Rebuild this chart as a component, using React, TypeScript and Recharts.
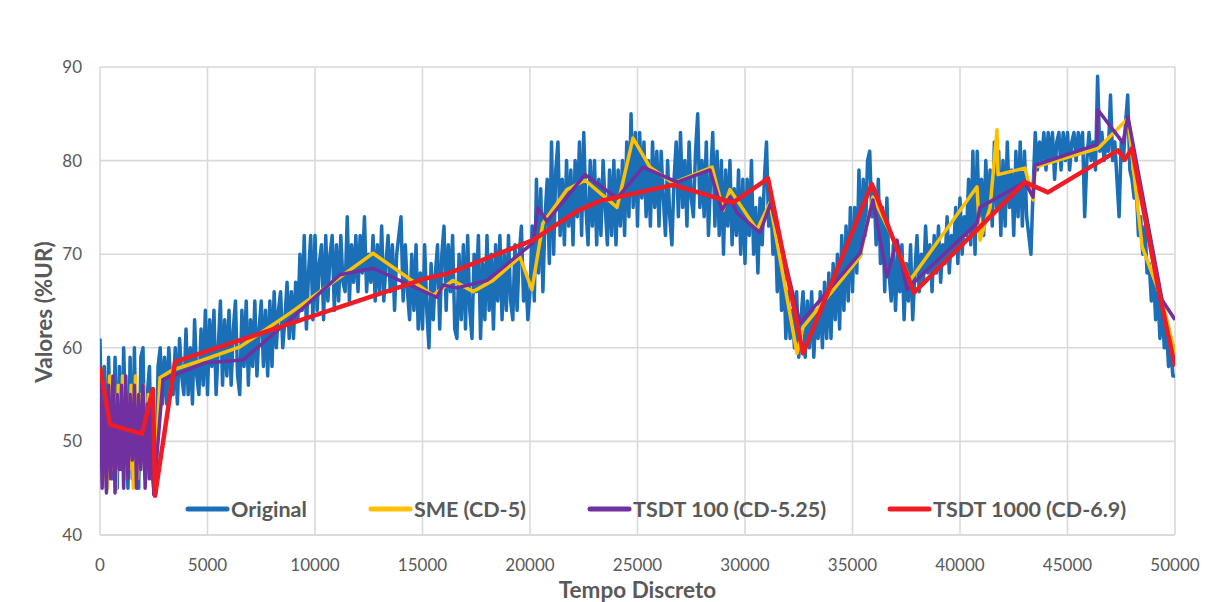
import React from 'react';
import { LineChart, Line, XAxis, YAxis, CartesianGrid, Legend } from 'recharts';

// Original humidity readings, one every ORIGINAL_INTERVAL discrete time steps
const ORIGINAL_INTERVAL = 100;
const originalValues = [
  61, 47, 58, 45, 59, 50, 46, 59, 45, 58, // 0
  47, 60, 52, 45, 59, 46, 60, 48, 45, 59, // 1000
  60, 46, 55, 58, 47, 45, 44.5, 58, 60, 54, // 2000
  59, 54, 60, 56, 55, 60, 54, 61, 57, 55, // 3000
  62, 55, 60, 54, 63, 57, 55, 62, 56, 64, // 4000
  55, 63, 58, 64, 55, 60, 65, 56, 63, 57, // 5000
  64, 56, 62, 65, 57, 55, 64, 58, 65, 56, // 6000
  63, 58, 65, 57, 62, 65, 58, 64, 57, 65, // 7000
  58, 66, 60, 64, 66, 60, 63, 67, 61, 66, // 8000
  61, 67, 63, 70, 64, 72, 62, 68, 72, 63, // 9000
  72, 64, 69, 71, 63, 72, 65, 70, 72, 64, // 10000
  71, 65, 72, 67, 66, 74, 65, 71, 67, 72, // 11000
  66, 72, 68, 74, 66, 70, 67, 72, 65, 71, // 12000
  66, 73, 65, 69, 72, 66, 71, 64, 70, 72, // 13000
  74, 65, 71, 66, 63, 70, 64, 71, 62, 68, // 14000
  62, 71, 64, 60, 69, 63, 68, 71, 62, 70, // 15000
  73, 64, 71, 66, 72, 62, 61, 70, 63, 71, // 16000
  62, 72, 64, 61, 70, 66, 72, 61, 69, 63, // 17000
  72, 64, 70, 62, 71, 65, 72, 63, 70, 64, // 18000
  72, 65, 63, 71, 64, 70, 73, 65, 68, 63, // 19000
  66, 73, 65, 78, 68, 77, 66, 74, 78, 69, // 20000
  82, 70, 79, 82, 72, 78, 71, 80, 73, 79, // 21000
  71, 80, 74, 82, 72, 83, 75, 71, 80, 73, // 22000
  80, 71, 78, 72, 80, 75, 71, 79, 72, 80, // 23000
  71, 79, 73, 80, 72, 82, 74, 85, 75, 83, // 24000
  73, 83, 76, 82, 74, 80, 73, 82, 75, 81, // 25000
  73, 81, 76, 72, 80, 74, 71, 78, 82, 74, // 26000
  83, 75, 80, 73, 82, 76, 74, 81, 85, 75, // 27000
  80, 74, 82, 72, 78, 83, 73, 81, 72, 80, // 28000
  70, 79, 73, 80, 71, 77, 72, 79, 70, 78, // 29000
  69, 78, 72, 80, 70, 75, 68, 76, 71, 78, // 30000
  82, 73, 76, 70, 74, 66, 72, 64, 69, 61, // 31000
  66, 61, 64, 60, 66, 59, 63, 66, 59, 65, // 32000
  60, 66, 59, 64, 61, 66, 60, 67, 61, 68, // 33000
  61, 69, 63, 70, 62, 72, 64, 73, 65, 75, // 34000
  66, 75, 68, 79, 70, 78, 72, 80, 81, 74, // 35000
  77, 71, 78, 69, 75, 66, 76, 68, 65, 71, // 36000
  64, 70, 66, 71, 63, 69, 65, 71, 63, 68, // 37000
  72, 66, 70, 67, 73, 68, 71, 66, 72, 68, // 38000
  73, 67, 71, 69, 74, 68, 72, 70, 75, 69, // 39000
  76, 70, 74, 72, 78, 71, 81, 70, 81, 74, // 40000
  78, 72, 80, 74, 79, 73, 82, 75, 81, 72, // 41000
  80, 73, 82, 75, 79, 72, 81, 74, 82, 73, // 42000
  81, 74, 72, 70, 77, 83, 79, 82, 80, 83, // 43000
  79, 83, 80, 83, 78, 82, 83, 79, 83, 80, // 44000
  83, 79, 82, 83, 80, 83, 81, 83, 74, 80, // 45000
  83, 80, 82, 79, 89, 81, 83, 80, 82, 81, // 46000
  87, 80, 82, 78, 74, 82, 80, 84, 87, 79, // 47000
  78, 76, 77, 72, 74, 70, 73, 68, 69, 65, // 48000
  68, 63, 66, 61, 65, 60, 62, 58, 60, 57, // 49000
  57, // 50000
];

// SME (CD-5)
const smeTimes = [
  0, 150, 250, 350, 450, 550, 650, 750, 850, 950, 1050, 1150, 1250, 1350, 1450, 1550, 1650, 1750, 1850,
  1950, 2050, 2150, 2250, 2350, 2450, 2550,
  2790, 3350, 4790, 6510, 8840, 12700, 15490, 16420, 17350, 18280, 19530, 20090, 20600, 21720, 22560,
  24050, 24790, 25580, 26650, 28470, 28980, 29300, 30560, 31160, 32420, 32700, 35350, 35950, 37070,
  37670, 40790, 40930, 41400, 41720, 41770, 43020, 43400, 43490, 46420, 47810, 48470, 49400, 50000,
];
const smeValues = [
  56, 46, 54, 45, 57, 47, 55, 45, 56, 48, 57, 46, 55, 47, 56, 45, 57, 46, 55,
  48, 56, 46, 55, 47, 54, 45,
  56.8, 57.6, 58.7, 60.1, 63.7, 70.1, 65.6, 67.2, 66, 67.2, 69.7, 66.2, 73.3, 76.9, 77.9,
  75, 82.4, 79.3, 77.6, 79.3, 74.7, 76.9, 72.6, 75.5, 59.4, 62.2, 69.7, 76.1, 70.8,
  67.2, 77.2, 71.5, 75, 83.3, 78.5, 79.2, 75.8, 79.3, 81.3, 84.5, 70.8, 65.1, 59.4,
];

// TSDT 100 (CD-5.25)
const tsdt100Times = [
  0, 100, 200, 300, 400, 500, 600, 700, 800, 900, 1000, 1100, 1200, 1300, 1400, 1500, 1600, 1700, 1800,
  1900, 2000, 2100, 2200, 2300, 2400, 2500,
  2930, 4880, 6650, 8840, 11160, 12700, 14420, 15670, 15950, 16600, 18000, 20140, 20370, 20790, 22560,
  24050, 25260, 26840, 28370, 28930, 29300, 29630, 30700, 31200, 32560, 35350, 35950, 36600, 37070,
  37530, 37810, 40790, 40930, 43020, 43400, 43490, 46370, 46420, 47580, 47810, 49400, 50000,
];
const tsdt100Values = [
  57, 45, 55, 44.5, 56, 46, 57, 44.5, 55, 47, 56, 45, 57, 46, 55, 48, 56, 45, 55,
  47, 56, 45, 54, 46, 55, 44.3,
  56.6, 58.4, 58.7, 63, 67.8, 68.5, 66.7, 65.4, 66.7, 66.4, 67.2, 71.2, 75, 73.5, 78.5,
  76, 79.3, 77.7, 79, 74.7, 76.1, 74.4, 72.3, 75.5, 62.6, 70.1, 75.8, 67.6, 71.5,
  66.2, 66.9, 73.3, 75, 77.7, 76.1, 79.5, 81.7, 85.4, 81.9, 84.7, 65.1, 63,
];

// TSDT 1000 (CD-6.9)
const tsdt1000Times = [
  0, 465, 1950, 2460, 2560, 3490, 15120, 16140, 20140, 22190, 23260, 26650, 29440, 31070, 32700,
  35900, 37860, 43020, 44090, 47350, 47670, 48000, 49210, 50000,
];
const tsdt1000Values = [
  58, 51.8, 50.8, 55.6, 44.2, 58.5, 67.4, 67.9, 71.5, 74.6, 75.7, 77.4, 75.5, 78.1, 59.4,
  77.5, 65.9, 77.7, 76.6, 81.1, 80.1, 81.3, 66.5, 58,
];

const xTicks = [0, 5000, 10000, 15000, 20000, 25000, 30000, 35000, 40000, 45000, 50000];
const yTicks = [40, 50, 60, 70, 80, 90];

type Pt = { t: number; v: number };
const toPoints = (times: number[], values: number[]): Pt[] =>
  times.map((t, i) => ({ t, v: values[i] }));

const originalData: Pt[] = originalValues.map((v, i) => ({ t: i * ORIGINAL_INTERVAL, v }));
const smeData = toPoints(smeTimes, smeValues);
const tsdt100Data = toPoints(tsdt100Times, tsdt100Values);
const tsdt1000Data = toPoints(tsdt1000Times, tsdt1000Values);

const FONT = 'Lato, "Open Sans", "Liberation Sans", sans-serif';
const TEXT = '#595959';
const GRID = '#d9d9d9';

const seriesStyle = [
  { key: 'Original', color: '#1b6fb6', width: 3.5, data: originalData },
  { key: 'SME (CD-5)', color: '#ffc000', width: 3.5, data: smeData },
  { key: 'TSDT 100 (CD-5.25)', color: '#7030a0', width: 3.5, data: tsdt100Data },
  { key: 'TSDT 1000 (CD-6.9)', color: '#ee1c25', width: 4.5, data: tsdt1000Data },
];

const LegendRow = () => (
  <div style={{ display: 'flex', alignItems: 'center', gap: 61, fontFamily: FONT }}>
    {seriesStyle.map((s) => (
      <div key={s.key} style={{ display: 'flex', alignItems: 'center' }}>
        <svg width={45} height={10} style={{ display: 'block' }}>
          <line x1={3} y1={5} x2={42} y2={5} stroke={s.color} strokeWidth={5} strokeLinecap="round" />
        </svg>
        <span style={{ fontSize: 21.5, fontWeight: 700, color: TEXT, marginLeft: 1 }}>{s.key}</span>
      </div>
    ))}
  </div>
);

export default function App() {
  return (
    <div
      style={{
        position: 'absolute',
        left: 8,
        top: 8,
        width: 1198,
        height: 594,
        overflow: 'hidden',
        fontFamily: FONT,
      }}
    >
      <LineChart
        width={1198}
        height={594}
        margin={{ top: 59, right: 31, left: 0, bottom: 27 }}
      >
        <CartesianGrid stroke={GRID} strokeWidth={1.6} vertical horizontal />
        <XAxis
          dataKey="t"
          type="number"
          domain={[0, 50000]}
          ticks={xTicks}
          allowDataOverflow
          height={40}
          stroke={GRID}
          strokeWidth={1.6}
          tickLine={false}
          tickMargin={18}
          tick={{ fill: TEXT, fontSize: 17, fontFamily: FONT }}
          label={{
            content: (props: any) => {
              const vb = props.viewBox;
              return (
                <text
                  x={vb.x + vb.width / 2}
                  y={vb.y + 63}
                  textAnchor="middle"
                  fill={TEXT}
                  fontSize={22.5}
                  fontWeight={700}
                  fontFamily={FONT}
                >
                  Tempo Discreto
                </text>
              );
            },
          }}
        />
        <YAxis
          type="number"
          domain={[40, 90]}
          ticks={yTicks}
          allowDataOverflow
          width={92}
          axisLine={false}
          tickLine={false}
          tickMargin={12}
          tick={{ fill: TEXT, fontSize: 17, fontFamily: FONT }}
          label={{
            content: (props: any) => {
              const vb = props.viewBox;
              const cx = vb.x + 35;
              const cy = vb.y + vb.height / 2 + 11;
              return (
                <text
                  x={cx}
                  y={cy}
                  transform={`rotate(-90, ${cx}, ${cy})`}
                  textAnchor="middle"
                  dominantBaseline="central"
                  fill={TEXT}
                  fontSize={22.5}
                  fontWeight={700}
                  fontFamily={FONT}
                >
                  Valores (%UR)
                </text>
              );
            },
          }}
        />
        <Legend
          layout="horizontal"
          verticalAlign="middle"
          align="center"
          content={() => <LegendRow />}
          wrapperStyle={{ top: 488, left: 177, width: 'auto' }}
        />
        {seriesStyle.map((s) => (
          <Line
            key={s.key}
            data={s.data}
            dataKey="v"
            name={s.key}
            type="linear"
            stroke={s.color}
            strokeWidth={s.width}
            strokeLinejoin="round"
            dot={false}
            activeDot={false}
            isAnimationActive={false}
          />
        ))}
      </LineChart>
    </div>
  );
}
